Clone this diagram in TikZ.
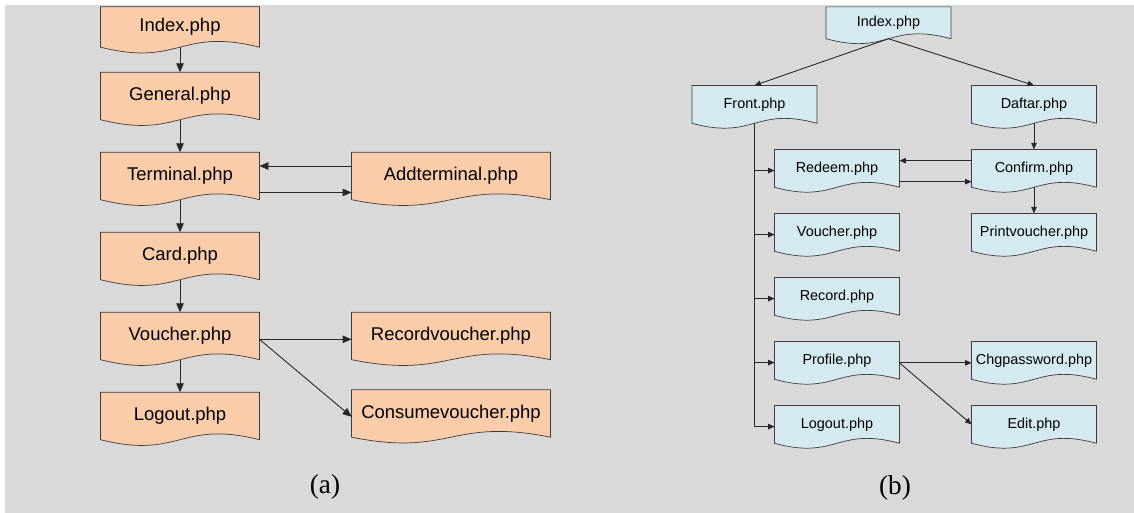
\documentclass[tikz,border=0pt]{standalone}
\usepackage{fontspec}
\setmainfont{Liberation Sans}
\newfontfamily\capfont{Liberation Serif}
\usetikzlibrary{arrows.meta,calc,backgrounds}

\definecolor{peach}{RGB}{250,204,170}
\definecolor{paleblue}{RGB}{212,234,240}
\definecolor{panelgrey}{RGB}{217,217,217}
\definecolor{edgegrey}{RGB}{60,60,60}

\begin{document}
\begin{tikzpicture}[line width=0.5pt,
    pageA/.style={inner sep=0pt,minimum width=3.16cm,minimum height=0.93cm,font=\fontsize{10.5}{12}\selectfont},
    wideA/.style={pageA,minimum width=3.96cm},
    pageB/.style={inner sep=0pt,minimum width=2.48cm,minimum height=0.74cm,font=\fontsize{8.2}{10}\selectfont},
    linkA/.style={-{Triangle[length=0.18cm,width=0.15cm]},black!85},
    linkB/.style={-{Triangle[length=0.13cm,width=0.11cm]},black!85}]
        \useasboundingbox (0,0) rectangle (22.68,-10.26);

        % (a) nodes
        \node[pageA,minimum height=0.79cm] (idxA) at (3.6,-0.54) {Index.php};
        \node[pageA,below of=idxA,node distance=1.38cm] (genA) {General.php};
        \node[pageA,below of=genA,node distance=1.6cm] (terA) {Terminal.php};
        \node[pageA,below of=terA,node distance=1.6cm] (carA) {Card.php};
        \node[pageA,below of=carA,node distance=1.6cm] (vouA) {Voucher.php};
        \node[pageA,below of=vouA,node distance=1.6cm] (logA) {Logout.php};
        \node[wideA,right of=terA,node distance=5.42cm] (addA) {Addterminal.php};
        \node[wideA,right of=vouA,node distance=5.42cm] (recA) {Recordvoucher.php};
        \node[wideA,below of=recA,node distance=1.55cm] (conA) {Consumevoucher.php};

        % (b) nodes
        \node[pageB,minimum height=0.62cm] (idxB) at (17.77,-0.456) {Index.php};
        \node[pageB] (froB) at (15.09,-2.087) {Front.php};
        \node[pageB] (dafB) at (20.68,-2.087) {Daftar.php};
        \node[pageB,below of=dafB,node distance=1.28cm] (cnfB) {Confirm.php};
        \node[pageB,left of=cnfB,node distance=3.94cm] (redB) {Redeem.php};
        \node[pageB,below of=redB,node distance=1.28cm] (vchB) {Voucher.php};
        \node[pageB,below of=cnfB,node distance=1.28cm] (prvB) {Printvoucher.php};
        \node[pageB,below of=vchB,node distance=1.28cm] (recB) {Record.php};
        \node[pageB,below of=recB,node distance=1.28cm] (proB) {Profile.php};
        \node[pageB,below of=proB,node distance=1.28cm] (lgoB) {Logout.php};
        \node[pageB,right of=proB,node distance=3.94cm] (chgB) {Chgpassword.php};
        \node[pageB,right of=lgoB,node distance=3.94cm] (ediB) {Edit.php};

        % Captions
        \node[font=\capfont\fontsize{15.5}{18}\selectfont] (capA) at (6.5,-9.74) {(a)};
        \node[font=\capfont\fontsize{15.5}{18}\selectfont] (capB) at (17.9,-9.76) {(b)};

        % Page shapes behind the texts
        \begin{scope}[on background layer]
            \fill[panelgrey] (0.1,-0.1) rectangle (22.68,-10.26);
            \foreach \n in {idxA,genA,terA,carA,vouA,logA,addA,recA,conA}
                \draw[edgegrey,fill=peach] (\n.north west) -- (\n.north east) -- (\n.south east)
                    .. controls ($(\n.south)+(0,0.4)$) and ($(\n.south)+(0,-0.4)$) .. (\n.south west) -- cycle;
            \foreach \n in {idxB,froB,dafB,cnfB,redB,vchB,prvB,recB,proB,lgoB,chgB,ediB}
                \draw[edgegrey,fill=paleblue] (\n.north west) -- (\n.north east) -- (\n.south east)
                    .. controls ($(\n.south)+(0,0.34)$) and ($(\n.south)+(0,-0.34)$) .. (\n.south west) -- cycle;
        \end{scope}

        % (a) connections
        \draw[linkA] (idxA) -- (genA);
        \draw[linkA] (genA) -- (terA);
        \draw[linkA] (terA) -- (carA);
        \draw[linkA] (carA) -- (vouA);
        \draw[linkA] (vouA) -- (logA);
        \draw[linkA] ([yshift=0.2cm]addA.west) -- ([yshift=0.2cm]terA.east);
        \draw[linkA] ([yshift=-0.33cm]terA.east) -- ([yshift=-0.33cm]addA.west);
        \draw[linkA] ([yshift=-0.066cm]vouA.east) -- ([yshift=-0.066cm]recA.west);
        \draw[linkA] ([yshift=-0.066cm]vouA.east) -- ([yshift=-0.066cm]conA.west);

        % (b) connections
        \draw[linkB] (idxB.south) -- (froB.north);
        \draw[linkB] (idxB.south) -- (dafB.north);
        \draw[linkB] (dafB) -- (cnfB);
        \draw[linkB] (cnfB) -- (prvB);
        \draw[linkB] ([yshift=0.153cm]cnfB.west) -- ([yshift=0.153cm]redB.east);
        \draw[linkB] ([yshift=-0.267cm]redB.east) -- ([yshift=-0.267cm]cnfB.west);
        \draw[black!85] (froB.south) -- ($(froB.south |- lgoB.west)+(0,-0.045)$);
        \foreach \n in {redB,vchB,recB,proB,lgoB}
            \draw[linkB] ($(froB.south |- \n.west)+(0,-0.045)$) -- ([yshift=-0.045cm]\n.west);
        \draw[linkB] ([yshift=-0.05cm]proB.east) -- ([yshift=-0.05cm]chgB.west);
        \draw[linkB] ([yshift=-0.05cm]proB.east) -- (ediB.west);
    \end{tikzpicture}
\end{document}
